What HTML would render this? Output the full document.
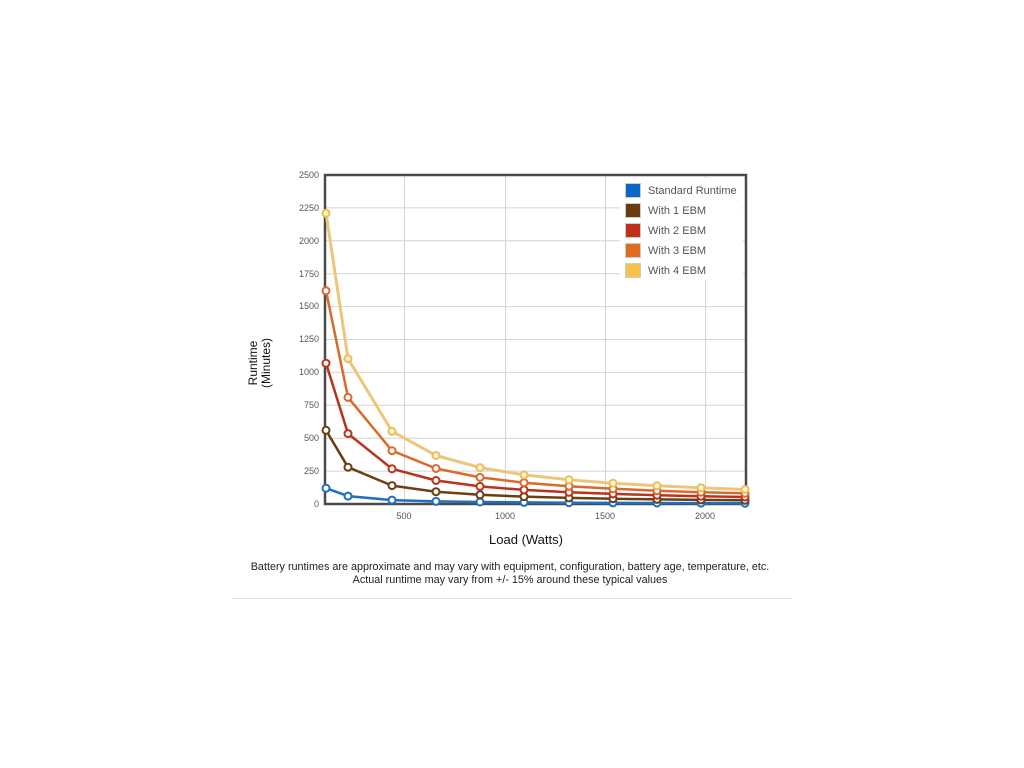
<!DOCTYPE html>
<html><head><meta charset="utf-8"><style>
html,body{margin:0;padding:0;background:#fff;width:1024px;height:768px;overflow:hidden}
svg{display:block;font-family:"Liberation Sans",Arial,sans-serif}
</style></head><body>
<svg width="1024" height="768" viewBox="0 0 1024 768" xmlns="http://www.w3.org/2000/svg">
<g stroke="#d4d4d4" stroke-width="1">
<line x1="325" y1="471.1" x2="746" y2="471.1"/><line x1="325" y1="438.2" x2="746" y2="438.2"/>
<line x1="325" y1="405.3" x2="746" y2="405.3"/><line x1="325" y1="372.4" x2="746" y2="372.4"/>
<line x1="325" y1="339.5" x2="746" y2="339.5"/><line x1="325" y1="306.6" x2="746" y2="306.6"/>
<line x1="325" y1="273.7" x2="746" y2="273.7"/><line x1="325" y1="240.8" x2="746" y2="240.8"/>
<line x1="325" y1="207.9" x2="746" y2="207.9"/>
<line x1="404.5" y1="175" x2="404.5" y2="504"/><line x1="505.5" y1="175" x2="505.5" y2="504"/>
<line x1="605.5" y1="175" x2="605.5" y2="504"/><line x1="705.5" y1="175" x2="705.5" y2="504"/>
</g>
<rect x="325" y="175" width="421" height="329" fill="none" stroke="#4a4a4a" stroke-width="2.5"/>
<g font-size="9" fill="#555" text-anchor="end">
<text x="319" y="507">0</text><text x="319" y="474">250</text><text x="319" y="441">500</text>
<text x="319" y="408">750</text><text x="319" y="375">1000</text><text x="319" y="342">1250</text>
<text x="319" y="309">1500</text><text x="319" y="277">1750</text><text x="319" y="244">2000</text>
<text x="319" y="211">2250</text><text x="319" y="178">2500</text>
</g>
<g font-size="9" fill="#555" text-anchor="middle">
<text x="404" y="519">500</text><text x="505" y="519">1000</text><text x="605" y="519">1500</text><text x="705" y="519">2000</text>
</g>
<g fill="none" stroke-width="2.5" stroke-linejoin="round">
<polyline stroke="#1e6fc0" points="326,488.2 348,496.1 392,500.1 436,501.4 480,502 524,502.4 569,502.7 613,502.9 657,503 701,503.1 745,503.2"/>
<polyline stroke="#6b3e14" points="326,430.3 348,467.2 392,485.6 436,491.7 480,494.8 524,496.6 569,497.9 613,498.7 657,499.4 701,499.9 745,500.3"/>
<polyline stroke="#b8341c" points="326,363.2 348,433.6 392,468.8 436,480.5 480,486.4 524,489.9 569,492.3 613,493.9 657,495.2 701,496.2 745,497"/>
<polyline stroke="#d96a2c" points="326,290.8 348,397.4 392,450.7 436,468.5 480,477.4 524,482.7 569,486.2 613,488.8 657,490.7 701,492.2 745,493.3"/>
<polyline stroke="#ecc77a" stroke-width="3" points="326,213.2 348,358.6 392,431.3 436,455.5 480,467.6 524,474.9 569,479.8 613,483.2 657,485.8 701,487.8 745,489.5"/>
</g>
<g fill="#fff" stroke-width="2">
<g stroke="#1e6fc0"><circle cx="326" cy="488.2" r="3.5"/><circle cx="348" cy="496.1" r="3.5"/><circle cx="392" cy="500.1" r="3.5"/><circle cx="436" cy="501.4" r="3.5"/><circle cx="480" cy="502" r="3.5"/><circle cx="524" cy="502.4" r="3.5"/><circle cx="569" cy="502.7" r="3.5"/><circle cx="613" cy="502.9" r="3.5"/><circle cx="657" cy="503" r="3.5"/><circle cx="701" cy="503.1" r="3.5"/><circle cx="745" cy="503.2" r="3.5"/></g>
<g stroke="#6b3e14"><circle cx="326" cy="430.3" r="3.5"/><circle cx="348" cy="467.2" r="3.5"/><circle cx="392" cy="485.6" r="3.5"/><circle cx="436" cy="491.7" r="3.5"/><circle cx="480" cy="494.8" r="3.5"/><circle cx="524" cy="496.6" r="3.5"/><circle cx="569" cy="497.9" r="3.5"/><circle cx="613" cy="498.7" r="3.5"/><circle cx="657" cy="499.4" r="3.5"/><circle cx="701" cy="499.9" r="3.5"/><circle cx="745" cy="500.3" r="3.5"/></g>
<g stroke="#b8341c"><circle cx="326" cy="363.2" r="3.5"/><circle cx="348" cy="433.6" r="3.5"/><circle cx="392" cy="468.8" r="3.5"/><circle cx="436" cy="480.5" r="3.5"/><circle cx="480" cy="486.4" r="3.5"/><circle cx="524" cy="489.9" r="3.5"/><circle cx="569" cy="492.3" r="3.5"/><circle cx="613" cy="493.9" r="3.5"/><circle cx="657" cy="495.2" r="3.5"/><circle cx="701" cy="496.2" r="3.5"/><circle cx="745" cy="497" r="3.5"/></g>
<g stroke="#d96a2c"><circle cx="326" cy="290.8" r="3.5"/><circle cx="348" cy="397.4" r="3.5"/><circle cx="392" cy="450.7" r="3.5"/><circle cx="436" cy="468.5" r="3.5"/><circle cx="480" cy="477.4" r="3.5"/><circle cx="524" cy="482.7" r="3.5"/><circle cx="569" cy="486.2" r="3.5"/><circle cx="613" cy="488.8" r="3.5"/><circle cx="657" cy="490.7" r="3.5"/><circle cx="701" cy="492.2" r="3.5"/><circle cx="745" cy="493.3" r="3.5"/></g>
<g stroke="#e8bf60" fill="#fff3c8"><circle cx="326" cy="213.2" r="3.5"/><circle cx="348" cy="358.6" r="3.5"/><circle cx="392" cy="431.3" r="3.5"/><circle cx="436" cy="455.5" r="3.5"/><circle cx="480" cy="467.6" r="3.5"/><circle cx="524" cy="474.9" r="3.5"/><circle cx="569" cy="479.8" r="3.5"/><circle cx="613" cy="483.2" r="3.5"/><circle cx="657" cy="485.8" r="3.5"/><circle cx="701" cy="487.8" r="3.5"/><circle cx="745" cy="489.5" r="3.5"/></g>
</g>
<rect x="620" y="178" width="123" height="102" fill="#fff"/>
<g stroke="#ccc" stroke-width="1">
<rect x="625.5" y="183.5" width="15" height="14" fill="#0a66c8"/>
<rect x="625.5" y="203.5" width="15" height="14" fill="#6b3b10"/>
<rect x="625.5" y="223.5" width="15" height="14" fill="#c0301a"/>
<rect x="625.5" y="243.5" width="15" height="14" fill="#e06a20"/>
<rect x="625.5" y="263.5" width="15" height="14" fill="#f5c34a"/>
</g>
<g font-size="11" fill="#555">
<text x="648" y="194">Standard Runtime</text><text x="648" y="214">With 1 EBM</text>
<text x="648" y="234">With 2 EBM</text><text x="648" y="254">With 3 EBM</text><text x="648" y="274">With 4 EBM</text>
</g>
<g font-size="12" fill="#111" text-anchor="middle">
<text transform="translate(257,363) rotate(-90)">Runtime</text>
<text transform="translate(270,363) rotate(-90)">(Minutes)</text>
<text x="526" y="544" font-size="13">Load (Watts)</text>
</g>
<g font-size="10.8" fill="#222" text-anchor="middle">
<text x="510" y="570">Battery runtimes are approximate and may vary with equipment, configuration, battery age, temperature, etc.</text>
<text x="510" y="583">Actual runtime may vary from +/- 15% around these typical values</text>
</g>
<line x1="232" y1="598.5" x2="792" y2="598.5" stroke="#e2e2e2" stroke-width="1"/>
</svg>
</body></html>
